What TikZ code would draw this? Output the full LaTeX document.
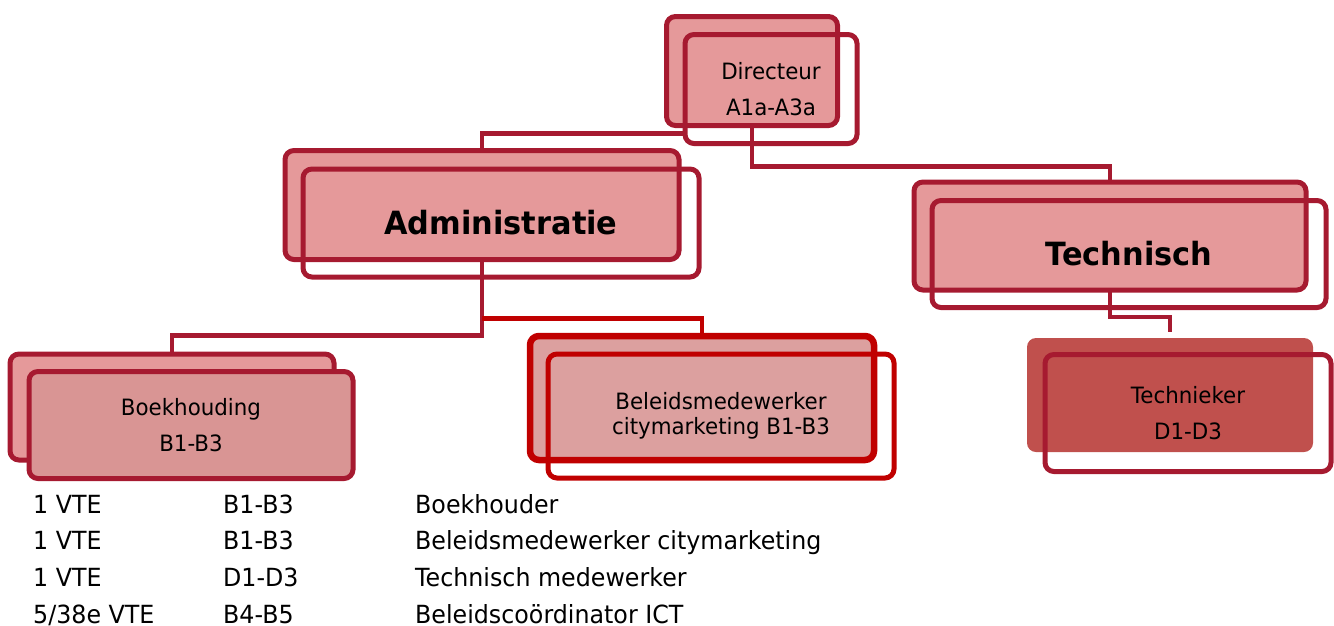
\documentclass[tikz,border=0pt]{standalone}
\usepackage{fontspec}
\setmainfont{DejaVu Sans}[FakeStretch=0.95]
\definecolor{frame}{HTML}{A61A30}
\definecolor{blush}{HTML}{E5999A}
\definecolor{rose}{HTML}{D99594}
\definecolor{signal}{HTML}{C00000}
\definecolor{petal}{HTML}{DCA09F}
\definecolor{brick}{HTML}{C0504D}
\tikzset{
  back/.style={draw=frame, line width=5pt, fill=blush, rounded corners=9pt,
    inner sep=0pt, outer sep=0pt},
  front/.style={draw=frame, line width=5pt, rounded corners=9pt, inner sep=0pt,
    outer sep=0pt, align=center, font=\fontsize{22.5}{35.5}\selectfont},
  head/.style={front, font=\bfseries\fontsize{32}{38}\selectfont},
  link/.style={draw=frame, line width=4.5pt},
  row/.style={anchor=base west, inner sep=0pt, font=\fontsize{25}{30}\selectfont},
}

\begin{document}
\begin{tikzpicture}[x=1pt, y=-1pt]
    \useasboundingbox (0,0) rectangle (1334,625);
    % back boxes first, the front box with its text on top
    \node[back, minimum width=171pt, minimum height=109pt] (dirb) at (752,71) {};
    \node[front, minimum width=172pt, minimum height=109pt] (dir) at ([shift={(19,18)}]dirb.center) {Directeur\\A1a-A3a};
    \node[back, minimum width=394pt, minimum height=109pt] (admb) at (482,205) {};
    \node[head, minimum width=396pt, minimum height=108pt] (adm) at ([shift={(19,18)}]admb.center) {Administratie};
    \node[back, minimum width=392pt, minimum height=108pt] (tecb) at (1110,236) {};
    \node[head, minimum width=394pt, minimum height=107pt] (tec) at ([shift={(19,18)}]tecb.center) {Technisch};
    \node[back, minimum width=324pt, minimum height=106pt] (boekb) at (172,407) {};
    \node[front, fill=rose, minimum width=324pt, minimum height=107pt] (boek) at ([shift={(19,18)}]boekb.center) {Boekhouding\\B1-B3};
    \node[back, draw=signal, fill=petal, line width=6.5pt, minimum width=344pt, minimum height=124pt] (belb) at (702,398) {};
    \node[front, draw=signal, minimum width=346pt, minimum height=124pt, font=\fontsize{22.5}{25}\selectfont] (bel) at ([shift={(19,18)}]belb.center) {Beleidsmedewerker\\citymarketing B1-B3};
    \node[back, draw=none, fill=brick, minimum width=286pt, minimum height=114pt] (tknb) at (1170,395) {};
    \node[front, minimum width=286pt, minimum height=117pt] (tkn) at ([shift={(18,18)}]tknb.center) {Technieker\\D1-D3};
    % connectors
    \draw[link] ([yshift=10pt]dir.south west) -| (admb.north);
    \draw[link] (dirb.south) -- ++(0,41) -| (tecb.north);
    \draw[link] (admb.south) -- ++(0,76) -| (boekb.north);
    \draw[link, draw=signal] ([yshift=-59pt]admb.south) -| (belb.north);
    \draw[link] (tecb.south) -- ++(0,27) -| ([yshift=6pt]tknb.north);
    % staff list
    \foreach \fte/\scale/\job [count=\i] in {1 VTE/B1-B3/Boekhouder,
        1 VTE/B1-B3/Beleidsmedewerker citymarketing,
        1 VTE/D1-D3/Technisch medewerker,
        {5/38e VTE}/B4-B5/Beleidscoördinator ICT} {
      \node[row] (fte\i) at (33,{513+36.7*(\i-1)}) {\fte};
      \node[row] (scale\i) at (223,{513+36.7*(\i-1)}) {\scale};
      \node[row] (job\i) at (415,{513+36.7*(\i-1)}) {\job};
    }
\end{tikzpicture}
\end{document}
